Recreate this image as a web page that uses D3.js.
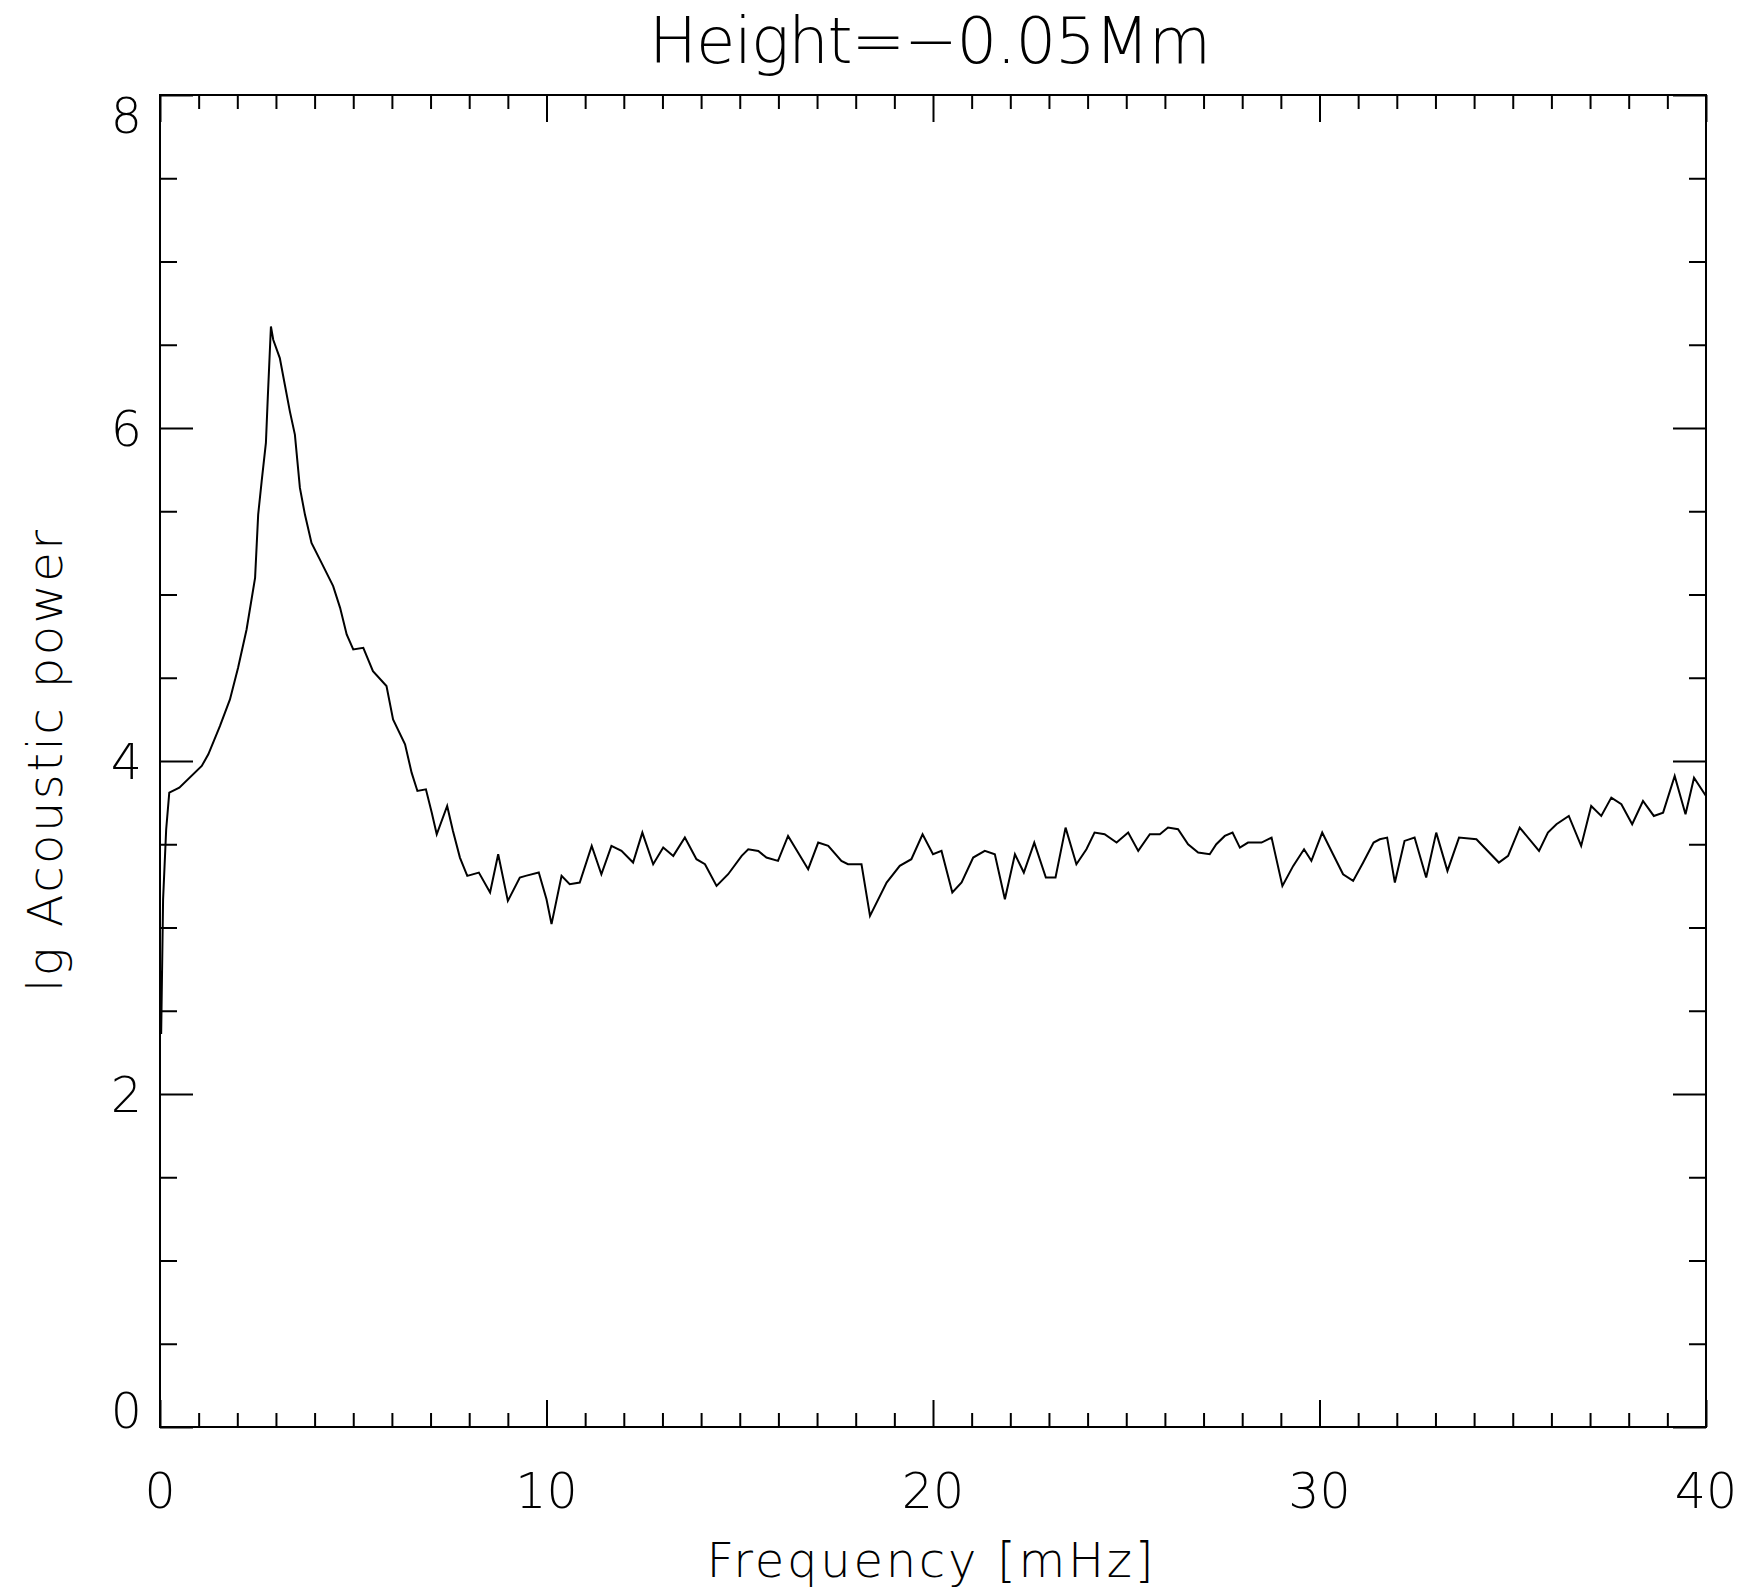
<!DOCTYPE html>
<html>
<head>
<meta charset="utf-8">
<script src="https://cdn.jsdelivr.net/npm/d3@7"></script>
<style>
  body { margin: 0; background: #fff; }
  svg text { font-family: "DejaVu Sans", sans-serif; font-weight: 200; fill: #000; }
</style>
</head>
<body>
<svg id="chart" width="1742" height="1592"></svg>
<script>
// frequency [mHz] and lg acoustic power
const freq = [0.00, 0.03, 0.08, 0.16, 0.24, 0.50, 1.08, 1.25, 1.55, 1.81, 2.02, 2.24, 2.46, 2.54, 2.63, 2.74, 2.79, 2.87, 2.93,
  3.10, 3.23, 3.36, 3.49, 3.62, 3.75, 3.92, 4.18, 4.48, 4.66, 4.83, 5.00, 5.26, 5.51, 5.86, 6.03, 6.34, 6.51, 6.66, 6.88,
  7.03, 7.16, 7.43, 7.58, 7.76, 7.95, 8.25, 8.54, 8.75, 9.00, 9.31, 9.46, 9.80, 10.00, 10.13, 10.39, 10.60, 10.86,
  11.17, 11.42, 11.68, 11.94, 12.24, 12.48, 12.76, 13.02, 13.28, 13.58, 13.88, 14.10, 14.40, 14.70, 15.05, 15.22,
  15.48, 15.69, 15.99, 16.25, 16.77, 17.03, 17.29, 17.63, 17.80, 18.15, 18.37, 18.80, 19.14, 19.44, 19.73, 20.00,
  20.22, 20.50, 20.74, 21.04, 21.34, 21.60, 21.86, 22.12, 22.35, 22.62, 22.92, 23.17, 23.43, 23.71, 23.97, 24.18,
  24.44, 24.75, 25.05, 25.31, 25.61, 25.87, 26.08, 26.34, 26.60, 26.86, 27.16, 27.33, 27.55, 27.75, 27.94, 28.15,
  28.50, 28.76, 29.04, 29.32, 29.60, 29.79, 30.07, 30.35, 30.61, 30.87, 31.13, 31.40, 31.56, 31.75, 31.95, 32.20,
  32.46, 32.76, 33.02, 33.31, 33.61, 34.06, 34.64, 34.88, 35.18, 35.68, 35.91, 36.13, 36.45, 36.77, 37.03, 37.29,
  37.55, 37.81, 38.09, 38.37, 38.65, 38.89, 39.19, 39.47, 39.69, 40.00];
const power = [2.75, 2.36, 3.17, 3.59, 3.81, 3.84, 3.97, 4.04, 4.21, 4.37, 4.56, 4.79, 5.10, 5.48, 5.68, 5.91, 6.19, 6.61, 6.53,
  6.42, 6.26, 6.10, 5.96, 5.64, 5.48, 5.31, 5.19, 5.05, 4.92, 4.76, 4.67, 4.68, 4.54, 4.45, 4.25, 4.10, 3.93, 3.82, 3.83,
  3.69, 3.56, 3.73, 3.58, 3.42, 3.31, 3.33, 3.21, 3.44, 3.16, 3.30, 3.31, 3.33, 3.17, 3.02, 3.31, 3.26, 3.27,
  3.49, 3.32, 3.49, 3.46, 3.39, 3.57, 3.38, 3.48, 3.43, 3.54, 3.41, 3.38, 3.25, 3.32, 3.43, 3.47,
  3.46, 3.42, 3.40, 3.55, 3.35, 3.51, 3.49, 3.40, 3.38, 3.38, 3.07, 3.27, 3.37, 3.41, 3.56, 3.44,
  3.46, 3.21, 3.27, 3.42, 3.46, 3.44, 3.17, 3.44, 3.33, 3.51, 3.30, 3.30, 3.60, 3.38, 3.47, 3.57,
  3.56, 3.51, 3.57, 3.46, 3.56, 3.56, 3.60, 3.59, 3.50, 3.45, 3.44, 3.50, 3.55, 3.57, 3.48, 3.51,
  3.51, 3.54, 3.25, 3.37, 3.47, 3.40, 3.57, 3.44, 3.32, 3.28, 3.39, 3.51, 3.53, 3.54, 3.27, 3.52,
  3.54, 3.30, 3.57, 3.34, 3.54, 3.53, 3.39, 3.43, 3.60, 3.46, 3.57, 3.62, 3.67, 3.49, 3.73, 3.67,
  3.78, 3.74, 3.62, 3.76, 3.67, 3.69, 3.91, 3.68, 3.90, 3.79];

const xMajor = [0, 10, 20, 30, 40];
const xMinor = d3.range(1, 40).filter(v => v % 10 !== 0);
const yMajor = [0, 2, 4, 6, 8];
const yMinor = d3.range(0.5, 8, 0.5).filter(v => v % 2 !== 0);

const titleText = "Height=\u22120.05Mm";
const xLabel = "Frequency [mHz]";
const yLabel = "lg Acoustic power";

const plotLeft = 160, plotRight = 1706, plotTop = 95, plotBottom = 1427;

const svg = d3.select("#chart");
const x = d3.scaleLinear().domain([0, 40]).range([plotLeft, plotRight]);
const y = d3.scaleLinear().domain([0, 8]).range([plotBottom, plotTop]);

// ticks on all four sides, pointing inward
const addAxis = (axisFn, scale, vals, len, transform) => {
  const g = svg.append("g")
    .attr("transform", transform)
    .call(axisFn(scale).tickValues(vals).tickSize(-len).tickSizeOuter(0).tickFormat(""));
  g.select(".domain").remove();
  g.selectAll(".tick line").attr("stroke", "#000").attr("stroke-width", 2);
  return g;
};

addAxis(d3.axisBottom, x, xMajor, 27, `translate(0,${plotBottom})`);
addAxis(d3.axisBottom, x, xMinor, 14, `translate(0,${plotBottom})`);
addAxis(d3.axisTop, x, xMajor, 27, `translate(0,${plotTop})`);
addAxis(d3.axisTop, x, xMinor, 14, `translate(0,${plotTop})`);
addAxis(d3.axisLeft, y, yMajor, 33, `translate(${plotLeft},0)`);
addAxis(d3.axisLeft, y, yMinor, 17, `translate(${plotLeft},0)`);
addAxis(d3.axisRight, y, yMajor, 33, `translate(${plotRight},0)`);
addAxis(d3.axisRight, y, yMinor, 17, `translate(${plotRight},0)`);

svg.append("rect")
  .attr("x", plotLeft).attr("y", plotTop)
  .attr("width", plotRight - plotLeft).attr("height", plotBottom - plotTop)
  .attr("fill", "none").attr("stroke", "#000").attr("stroke-width", 2);

// tick labels
svg.append("g").selectAll("text")
  .data(xMajor).enter().append("text")
  .attr("x", d => x(d)).attr("y", plotBottom + 81)
  .attr("text-anchor", "middle")
  .attr("font-size", 49)
  .text(d => d);

svg.append("g").selectAll("text")
  .data(yMajor).enter().append("text")
  .attr("x", plotLeft - 18)
  .attr("y", d => y(d))
  .attr("dy", d => d === 0 ? 1 : d === 8 ? 38 : 18)
  .attr("text-anchor", "end")
  .attr("font-size", 49)
  .text(d => d);

// titles
svg.append("text")
  .attr("x", (plotLeft + plotRight) / 2 - 3).attr("y", 63)
  .attr("text-anchor", "middle")
  .attr("font-size", 64)
  .attr("textLength", 562)
  .text(titleText);

svg.append("text")
  .attr("x", (plotLeft + plotRight) / 2 - 3).attr("y", 1577)
  .attr("text-anchor", "middle")
  .attr("font-size", 48)
  .attr("textLength", 447)
  .text(xLabel);

svg.append("text")
  .attr("transform", `translate(62,${(plotTop + plotBottom) / 2}) rotate(-90)`)
  .attr("text-anchor", "middle")
  .attr("font-size", 48)
  .attr("textLength", 462)
  .text(yLabel);

// the spectrum
svg.append("clipPath").attr("id", "plotClip")
  .append("rect").attr("x", plotLeft).attr("y", plotTop)
  .attr("width", plotRight - plotLeft).attr("height", plotBottom - plotTop);

const line = d3.line()
  .x((d, i) => x(freq[i]))
  .y(d => y(d));

svg.append("path")
  .datum(power)
  .attr("clip-path", "url(#plotClip)")
  .attr("fill", "none")
  .attr("stroke", "#000")
  .attr("stroke-width", 2)
  .attr("stroke-linejoin", "miter")
  .attr("d", line);
</script>
</body>
</html>
